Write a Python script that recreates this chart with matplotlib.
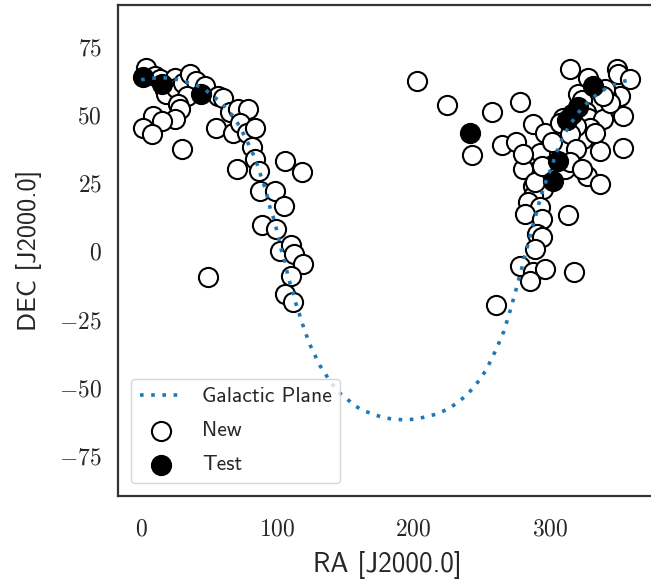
import matplotlib
matplotlib.use("Agg")
import matplotlib.pyplot as plt
import seaborn as sns
from matplotlib.ticker import FuncFormatter, FixedLocator

sns.set_style("white")
plt.rcParams["mathtext.fontset"] = "cm"
plt.rcParams["axes.unicode_minus"] = False

# Galactic plane (b = 0) traced in equatorial coordinates
gal_ra = [0, 7, 15, 23.5, 31, 39, 46, 53, 58.5, 64, 68.7, 73, 76.5, 80, 83.6,
          86.1, 88.5, 91.3, 93.1, 95, 97.6, 99.5, 101.4, 103.2, 105.6, 107.3,
          109.3, 111.7, 113.7, 116.1, 118, 121, 124, 127.7, 131.3, 135.7, 139.9,
          144.8, 150.9, 157, 163.9, 171.2, 179, 186.9, 194.9, 202.7, 210.3,
          218.1, 225.4, 232, 238.2, 243.8, 249.1, 253.5, 256.7, 260.2, 263.3,
          266.3, 268.7, 271, 273.2, 275.4, 277.4, 279.6, 281.3, 283.5, 285.4,
          287.4, 289.6, 291.7, 294, 296.4, 299.3, 302, 304.4, 307.7, 311, 315.2,
          319.6, 324.5, 330.2, 336.2, 343.6, 350.9, 357.5, 360]
gal_dec = [62.6, 63.1, 63.4, 63.0, 62.1, 60.9, 59.3, 56.6, 54.2, 51.2, 48.5,
           44.8, 41.4, 37.8, 33.8, 30.2, 26.4, 22.5, 18.8, 14.9, 11.3, 7.5, 3.6,
           -0.4, -4.3, -8.2, -12.0, -15.7, -19.6, -23.2, -26.3, -30.6, -34.6,
           -38.5, -42.2, -45.6, -48.8, -51.9, -54.3, -57.0, -58.8, -60.2, -61.4,
           -61.9, -62.1, -61.7, -60.8, -59.8, -58.0, -55.9, -53.3, -50.4, -47.0,
           -43.6, -40.3, -36.7, -33.2, -29.6, -25.7, -21.9, -18.0, -14.1, -10.2,
           -6.2, -2.5, 1.2, 5.0, 8.9, 12.7, 16.6, 20.7, 24.3, 28.0, 31.6, 35.3,
           39.2, 43.0, 46.3, 49.6, 52.8, 55.4, 57.9, 60.1, 61.5, 62.5, 62.6]

# newly detected sources
new_ra = [3.4, 10.0, 14.0, 17.6, 18.6, 24.7, 25.9, 30.8, 35.6, 40.6, 47.0, 33.5,
          27.0, 28.6, 24.7, 8.8, 15.0, 1.5, 7.6, 29.7, 56.7, 60.2, 55.3, 65.0,
          71.4, 78.7, 67.7, 72.6, 77.5, 83.6, 81.5, 83.6, 86.8, 70.4, 105.6,
          118.3, 87.5, 98.3, 105.0, 88.5, 99.0, 102.0, 110.3, 112.0, 118.5,
          109.8, 49.4, 105.6, 111.7,
          202.3, 224.3, 243.1, 257.3, 278.0, 264.6, 275.1, 287.8, 296.4, 315.0,
          328.3, 349.0, 350.0, 358.8, 351.4, 341.6, 340.4, 320.8, 324.0, 309.8,
          326.9, 328.2, 339.1, 353.8, 329.4, 324.5, 336.8, 353.8, 302.6, 312.3,
          292.7, 283.0, 290.3, 300.1, 311.0, 327.0, 337.1, 287.8, 295.1, 287.8,
          284.2, 292.7, 281.7, 294.0, 313.5, 290.3, 294.0, 289.0, 278.0, 287.8,
          296.4, 318.0, 285.4, 260.2, 313.0, 280.5, 289.0, 344.2, 333.2, 319.6,
          307.5, 314.9, 280.5, 301.3, 319.6, 314.9, 323.4, 294.0, 339.2]
new_dec = [66.8, 64.0, 62.8, 59.0, 57.5, 63.4, 59.7, 61.5, 64.6, 62.1, 60.3, 56.6,
           53.6, 52.0, 48.1, 49.3, 47.5, 45.0, 42.6, 37.3, 56.6, 56.0, 45.0, 50.6,
           51.8, 51.8, 43.2, 46.9, 43.2, 45.0, 37.8, 33.5, 29.2, 29.8, 32.8,
           28.9, 21.7, 21.7, 16.3, 9.3, 8.0, -0.1, 1.9, -1.3, -5.0,
           -9.3, -9.7, -15.8, -19.0,
           62.1, 53.2, 35.1, 50.6, 54.5, 38.7, 39.6, 46.3, 43.2, 66.7,
           63.2, 66.6, 64.8, 62.8, 56.6, 56.6, 59.1, 57.3, 55.0, 48.7,
           50.6, 48.5, 48.1, 49.3, 45.0, 40.8, 36.5, 37.5, 36.5, 35.9,
           35.9, 31.0, 29.2, 31.0, 29.8, 27.4, 24.3, 23.7, 22.5, 20.0,
           17.6, 15.8, 13.4, 11.5, 13.0, 6.0, 4.8, 0.5, -5.6, -8.0,
           -6.8, -7.8, -11.0, -20.0, 37.1, 29.8, 25.0, 54.2, 43.2, 45.7,
           46.9, 42.6, 35.3, 39.6, 37.1, 32.3, 29.8, 31.0, 56.6]

# test sources
test_ra = [1.7, 15.2, 44.0, 241.4, 331.9, 321.0, 316.5, 312.5, 306.3, 302.6]
test_dec = [63.6, 61.2, 57.5, 43.2, 60.3, 52.6, 50.0, 47.8, 32.9, 25.3]

fig = plt.figure(figsize=(6.51, 5.79), dpi=100)
ax = fig.add_axes([118 / 651, 1 - 496 / 579, 538 / 651, 491 / 579])

ax.plot(gal_ra, gal_dec, ls=(0, (1, 2.1)), lw=2.6, color="#1f77b4", zorder=3,
        label="Galactic Plane")
ax.scatter(new_ra, new_dec, s=190, facecolor="white", edgecolor="black",
           linewidth=1.5, zorder=2, label="New")
ax.scatter(test_ra, test_dec, s=190, facecolor="black", edgecolor="black",
           linewidth=1.5, zorder=2, label="Test")

ax.set_xlim(-17, 378)
ax.set_ylim(-90, 90)
ax.xaxis.set_major_locator(FixedLocator([0, 100, 200, 300]))
ax.yaxis.set_major_locator(FixedLocator([-75, -50, -25, 0, 25, 50, 75]))
tex_fmt = FuncFormatter(lambda v, p: f"${v:.0f}$")
ax.xaxis.set_major_formatter(tex_fmt)
ax.yaxis.set_major_formatter(tex_fmt)
ax.tick_params(axis="x", labelsize=17, pad=11)
ax.tick_params(axis="y", labelsize=17, pad=8)

for sp in ax.spines.values():
    sp.set_color(".2")
    sp.set_linewidth(1.6)

ax.set_xlabel("RA [J2000.0]", fontfamily="cmss10", fontsize=19.5, labelpad=8)
ax.set_ylabel("DEC [J2000.0]", fontfamily="cmss10", fontsize=19, labelpad=12)

leg = ax.legend(loc="lower left", prop={"family": "cmss10", "size": 15.5},
                frameon=True, framealpha=0.8, edgecolor=".8",
                borderaxespad=0.6, handlelength=2.0, handletextpad=0.9,
                labelspacing=0.7)

fig.savefig("out.png", dpi=100)
